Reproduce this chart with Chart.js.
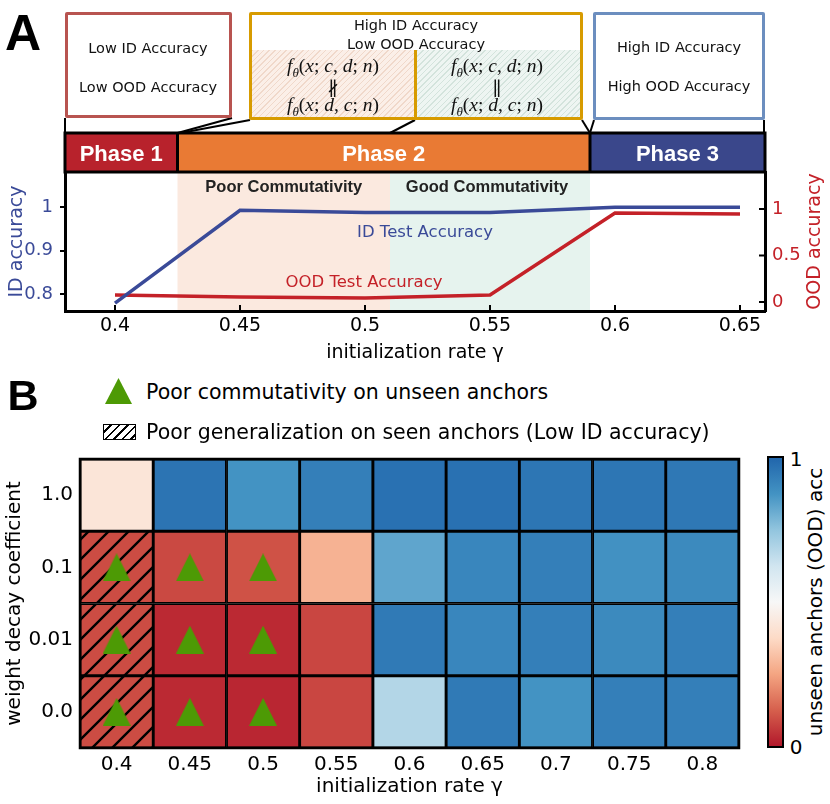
<!DOCTYPE html>
<html>
<head>
<meta charset="utf-8">
<script src="https://cdn.jsdelivr.net/npm/chart.js@4.4.1/dist/chart.umd.min.js"></script>
<style>
  html, body { margin: 0; padding: 0; background: #fff; }
  #fig { position: relative; width: 830px; height: 804px; overflow: hidden; font-family: "DejaVu Sans", sans-serif; }
  #fig canvas { position: absolute; }
  .t { position: absolute; transform: translate(-50%, -50%); white-space: nowrap; }
  .box { position: absolute; box-sizing: border-box; border: 3px solid; border-radius: 2px; background: #fff; }
  .note { font-size: 14.5px; color: #111; }
  .fm { font-family: "Liberation Serif", "DejaVu Serif", serif; font-size: 19.5px; color: #111; }
  .fm sub { font-size: 13px; }
  .big { font-family: "Liberation Sans", Arial, sans-serif; font-weight: bold; color: #000; }
  .leg { position: absolute; font-size: 20.5px; color: #000; white-space: nowrap; transform: translateY(-50%); }
</style>
</head>
<body>
<div id="fig">
  <canvas id="cA" width="830" height="372" style="left:0;top:0"></canvas>
  <canvas id="cB" width="760" height="364" style="left:0;top:440px"></canvas>

  <!-- panel letters -->
  <div class="t big" style="left:23px;top:33px;font-size:50px">A</div>
  <div class="t big" style="left:23px;top:395px;font-size:43px">B</div>

  <!-- phase boxes -->
  <div class="box" style="left:65px;top:12px;width:167px;height:106px;border-color:#b85450"></div>
  <div class="t note" style="left:148px;top:48px">Low ID Accuracy</div>
  <div class="t note" style="left:148px;top:87px">Low OOD Accuracy</div>

  <div class="box" style="left:249px;top:12px;width:334px;height:108px;border-color:#d79b00"></div>
  <div style="position:absolute;left:252px;top:50px;width:162px;height:67px;background:repeating-linear-gradient(135deg,#f0d8ca 0 1px,#fbefe8 1px 4px)"></div>
  <div style="position:absolute;left:417px;top:50px;width:163px;height:67px;background:repeating-linear-gradient(135deg,#d3e3dc 0 1px,#eef5f2 1px 4px)"></div>
  <div style="position:absolute;left:414px;top:50px;width:3px;height:70px;background:#d79b00"></div>
  <div class="t note" style="left:416px;top:25px">High ID Accuracy</div>
  <div class="t note" style="left:416px;top:44px">Low OOD Accuracy</div>
  <div class="t fm" style="left:333px;top:68px"><i>f</i><sub><i>θ</i></sub>(<i>x</i>; <i>c</i>, <i>d</i>; <i>n</i>)</div>
  <div class="t fm" style="left:333px;top:88px;font-size:19px">∦</div>
  <div class="t fm" style="left:333px;top:107px"><i>f</i><sub><i>θ</i></sub>(<i>x</i>; <i>d</i>, <i>c</i>; <i>n</i>)</div>
  <div class="t fm" style="left:497px;top:68px"><i>f</i><sub><i>θ</i></sub>(<i>x</i>; <i>c</i>, <i>d</i>; <i>n</i>)</div>
  <div class="t fm" style="left:497px;top:88px;font-size:19px">∥</div>
  <div class="t fm" style="left:497px;top:107px"><i>f</i><sub><i>θ</i></sub>(<i>x</i>; <i>d</i>, <i>c</i>; <i>n</i>)</div>

  <div class="box" style="left:593px;top:12px;width:172px;height:108px;border-color:#6c8ebf"></div>
  <div class="t note" style="left:679px;top:47px">High ID Accuracy</div>
  <div class="t note" style="left:679px;top:86px">High OOD Accuracy</div>

  <!-- panel B legend -->
  <div style="position:absolute;left:105px;top:378px;width:27px;height:26px;background:#4d9a05;clip-path:polygon(50% 0,100% 100%,0 100%)"></div>
  <div class="leg" style="left:146px;top:392px">Poor commutativity on unseen anchors</div>
  <div style="position:absolute;left:103px;top:424px;width:33px;height:16px;box-sizing:border-box;border:1.5px solid #000;background:repeating-linear-gradient(135deg,#fff 0 4px,#000 4px 6px)"></div>
  <div class="leg" style="left:146px;top:432px">Poor generalization on seen anchors (Low ID accuracy)</div>

  <!-- colorbar -->
  <div id="cbar" style="position:absolute;left:767px;top:456px;width:17px;height:292px;box-sizing:border-box;border:2.5px solid #000"></div>
  <div class="t" style="left:796px;top:459px;font-size:20px">1</div>
  <div class="t" style="left:796px;top:747px;font-size:20px">0</div>
  <div class="t" style="left:815px;top:602px;font-size:20px;transform:translate(-50%,-50%) rotate(-90deg)">unseen anchors (OOD) acc</div>
</div>

<script>
// ---- panel A: accuracy vs initialization rate ----
const gammaA = [0.4, 0.45, 0.5, 0.55, 0.6, 0.65];
const idAcc = [0.779, 0.993, 0.988, 0.988, 1.0, 1.0];
const oodAcc = [0.075, 0.054, 0.043, 0.075, 0.957, 0.946];
const idTicks = [0.8, 0.9, 1];
const oodTicks = [0, 0.5, 1];
const phaseNames = ['Phase 1', 'Phase 2', 'Phase 3'];
const phaseEdges = [0.425, 0.59];
const commEdge = 0.51;

// ---- panel B: OOD accuracy grid (rows bottom -> top) ----
const gammaB = ['0.4', '0.45', '0.5', '0.55', '0.6', '0.65', '0.7', '0.75', '0.8'];
const wdLabels = ['0.0', '0.01', '0.1', '1.0'];
const oodWd0   = [0.09, 0.03, 0.025, 0.08, 0.685, 0.945, 0.875, 0.93, 0.93];
const oodWd001 = [0.09, 0.03, 0.03, 0.08, 0.945, 0.91, 0.93, 0.90, 0.93];
const oodWd01  = [0.09, 0.085, 0.10, 0.28, 0.83, 0.91, 0.93, 0.88, 0.90];
const oodWd1   = [0.42, 0.96, 0.875, 0.93, 0.97, 0.97, 0.955, 0.955, 0.95];
const poorCommCells = [['0.4', '0.1'], ['0.45', '0.1'], ['0.5', '0.1'],
                       ['0.4', '0.01'], ['0.45', '0.01'], ['0.5', '0.01'],
                       ['0.4', '0.0'], ['0.45', '0.0'], ['0.5', '0.0']];
const lowIdCells = [['0.4', '0.1'], ['0.4', '0.01'], ['0.4', '0.0']];

const ID_BLUE = '#3a4a98', OOD_RED = '#c42128';
const phaseColors = ['#b8222c', '#e97a34', '#3a478b'];
const cmapStops = ['#b2182b', '#d6604d', '#f4a582', '#fddbc7', '#f7f7f7', '#d1e5f0', '#92c5de', '#4393c3', '#2166ac'];

Chart.defaults.font.family = '"DejaVu Sans", sans-serif';
Chart.defaults.color = '#000';

const fmt = v => String(Math.round(v * 100) / 100);

function hex2rgb(h) { return [1, 3, 5].map(i => parseInt(h.substr(i, 2), 16)); }
function cmap(v) {
  v = Math.max(0, Math.min(1, v));
  const n = cmapStops.length - 1, t = v * n;
  const i = Math.min(Math.floor(t), n - 1), f = t - i;
  const a = hex2rgb(cmapStops[i]), b = hex2rgb(cmapStops[i + 1]);
  return 'rgb(' + a.map((x, k) => Math.round(x + (b[k] - x) * f)).join(',') + ')';
}

document.getElementById('cbar').style.background =
  'linear-gradient(to top,' + cmapStops.join(',') + ')';

function line(ctx, x1, y1, x2, y2) {
  ctx.beginPath(); ctx.moveTo(x1, y1); ctx.lineTo(x2, y2); ctx.stroke();
}

// shading, phase bar, labels, inward ticks
const phasePlugin = {
  id: 'phases',
  beforeDraw(chart) {
    const { ctx, chartArea: a, scales: { x } } = chart;
    const p0 = x.getPixelForValue(phaseEdges[0]);
    const pc = x.getPixelForValue(commEdge);
    const p1 = x.getPixelForValue(phaseEdges[1]);
    ctx.save();
    ctx.fillStyle = '#fbe9df';
    ctx.fillRect(p0, a.top, pc - p0, a.bottom - a.top);
    ctx.fillStyle = '#e6f3ee';
    ctx.fillRect(pc, a.top, p1 - pc, a.bottom - a.top);
    ctx.restore();
  },
  afterDraw(chart) {
    const { ctx, chartArea: a, scales: { x, y, y1 } } = chart;
    const xs = [a.left, x.getPixelForValue(phaseEdges[0]), x.getPixelForValue(phaseEdges[1]), a.right];
    const pc = x.getPixelForValue(commEdge);
    const top = 133, bot = a.top;
    ctx.save();
    // phase bar
    phaseNames.forEach((n, i) => {
      ctx.fillStyle = phaseColors[i];
      ctx.fillRect(xs[i], top, xs[i + 1] - xs[i], bot - top);
    });
    ctx.strokeStyle = '#000';
    ctx.lineWidth = 3;
    ctx.strokeRect(a.left, top, a.right - a.left, bot - top);
    line(ctx, xs[1], top, xs[1], bot);
    line(ctx, xs[2], top, xs[2], bot);
    ctx.fillStyle = '#fff';
    ctx.font = 'bold 22px "Liberation Sans", Arial, sans-serif';
    ctx.textAlign = 'center';
    ctx.textBaseline = 'alphabetic';
    phaseNames.forEach((n, i) => ctx.fillText(n, (xs[i] + xs[i + 1]) / 2, 161));

    // connectors from the boxes to the bar
    ctx.lineWidth = 2;
    line(ctx, 65, 118, a.left, top);
    line(ctx, 232, 118, xs[1], top);
    line(ctx, 250, 120, xs[1] + 3, top);
    line(ctx, 415, 120, pc, top);
    line(ctx, 582, 120, xs[2], top);
    line(ctx, 594, 120, xs[2], top);
    line(ctx, 764, 120, a.right - 1, top);

    // commutativity labels
    ctx.fillStyle = '#222';
    ctx.font = 'bold 16.5px "Liberation Sans", Arial, sans-serif';
    ctx.textBaseline = 'middle';
    ctx.fillText('Poor Commutativity', (xs[1] + pc) / 2, a.top + 15);
    ctx.fillText('Good Commutativity', (pc + xs[2]) / 2 - 3, a.top + 15);

    // series labels
    ctx.font = '16.5px "DejaVu Sans", sans-serif';
    ctx.fillStyle = ID_BLUE;
    ctx.fillText('ID Test Accuracy', x.getPixelForValue(0.524), y.getPixelForValue(0.942));
    ctx.fillStyle = OOD_RED;
    ctx.fillText('OOD Test Accuracy', x.getPixelForValue(0.4996), y1.getPixelForValue(0.204));

    // inward ticks
    ctx.strokeStyle = '#000';
    ctx.lineWidth = 2;
    x.ticks.forEach(t => {
      const px = x.getPixelForValue(t.value);
      line(ctx, px, a.bottom, px, a.bottom - 6);
    });
    y1.ticks.forEach(t => {
      const py = y1.getPixelForValue(t.value);
      line(ctx, a.right, py, a.right - 6, py);
    });

    // right axis title, reading upward
    ctx.translate(815, (a.top + a.bottom) / 2);
    ctx.rotate(-Math.PI / 2);
    ctx.fillStyle = OOD_RED;
    ctx.font = '19px "DejaVu Sans", sans-serif';
    ctx.fillText('OOD accuracy', 0, 0);
    ctx.restore();
  }
};

new Chart(document.getElementById('cA'), {
  type: 'line',
  data: {
    datasets: [
      { label: 'ID Test Accuracy', data: gammaA.map((g, i) => ({ x: g, y: idAcc[i] })), yAxisID: 'y',
        borderColor: ID_BLUE, borderWidth: 3.5, pointRadius: 0, tension: 0 },
      { label: 'OOD Test Accuracy', data: gammaA.map((g, i) => ({ x: g, y: oodAcc[i] })), yAxisID: 'y1',
        borderColor: OOD_RED, borderWidth: 3.5, pointRadius: 0, tension: 0 }
    ]
  },
  options: {
    responsive: false, animation: false, devicePixelRatio: 1,
    layout: { padding: { top: 172, left: 0, right: 0, bottom: 0 } },
    plugins: { legend: { display: false }, tooltip: { enabled: false } },
    scales: {
      x: {
        type: 'linear', min: 0.38, max: 0.66,
        afterBuildTicks: s => { s.ticks = gammaA.map(v => ({ value: v })); },
        afterFit: s => { s.height = 61; },
        grid: { display: false, drawTicks: false },
        border: { color: '#000', width: 3 },
        ticks: { padding: 4, font: { size: 19 }, color: '#000', callback: v => fmt(v) },
        title: { display: true, text: 'initialization rate γ', font: { size: 19 }, color: '#000', padding: { top: 0, bottom: 8 } }
      },
      y: {
        type: 'linear', position: 'left', min: 0.761, max: 1.081,
        afterBuildTicks: s => { s.ticks = idTicks.map(v => ({ value: v })); },
        afterFit: s => { s.width = 65; },
        grid: { drawOnChartArea: false, drawTicks: true, tickLength: 5, color: '#000', lineWidth: 2 },
        border: { color: '#000', width: 3 },
        ticks: { padding: 7, font: { size: 18 }, color: ID_BLUE, callback: v => fmt(v) },
        title: { display: true, text: 'ID accuracy', font: { size: 19 }, color: ID_BLUE, padding: { top: 6, bottom: 0 } }
      },
      y1: {
        type: 'linear', position: 'right', min: -0.097, max: 1.398,
        afterBuildTicks: s => { s.ticks = oodTicks.map(v => ({ value: v })); },
        afterFit: s => { s.width = 65; },
        grid: { display: false, drawTicks: false },
        border: { color: '#000', width: 3 },
        ticks: { padding: 7, font: { size: 18 }, color: OOD_RED, callback: v => fmt(v) }
      }
    }
  },
  plugins: [phasePlugin]
});

// ---- panel B heatmap ----
const cB = document.getElementById('cB');
const ctxB = cB.getContext('2d');

function hatch(color) {
  const s = 20, c = document.createElement('canvas');
  c.width = c.height = s;
  const g = c.getContext('2d');
  g.fillStyle = color; g.fillRect(0, 0, s, s);
  g.strokeStyle = '#000'; g.lineWidth = 2.4;
  g.beginPath();
  g.moveTo(0, s); g.lineTo(s, 0);
  g.moveTo(-s / 2, s / 2); g.lineTo(s / 2, -s / 2);
  g.moveTo(s / 2, s * 1.5); g.lineTo(s * 1.5, s / 2);
  g.stroke();
  return ctxB.createPattern(c, 'repeat');
}

const tri = document.createElement('canvas');
tri.width = 28; tri.height = 28;
(() => {
  const g = tri.getContext('2d');
  g.fillStyle = '#4d9a05';
  g.beginPath(); g.moveTo(14, 0); g.lineTo(28, 28); g.lineTo(0, 28); g.closePath(); g.fill();
})();

const oodRows = [oodWd0, oodWd001, oodWd01, oodWd1];
const isLowId = (g, w) => lowIdCells.some(c => c[0] === g && c[1] === w);

const rowSets = oodRows.map((vals, r) => ({
  type: 'bar',
  label: 'wd ' + wdLabels[r],
  data: gammaB.map(() => [r - 0.5, r + 0.5]),
  backgroundColor: vals.map((v, i) => isLowId(gammaB[i], wdLabels[r]) ? hatch(cmap(v)) : cmap(v)),
  borderColor: '#000', borderWidth: 1.8, borderSkipped: false,
  barPercentage: 1, categoryPercentage: 1, grouped: false, order: 2
}));

const triSet = {
  type: 'line', label: 'poor commutativity', showLine: false, order: 0,
  data: poorCommCells.map(c => ({ x: c[0], y: wdLabels.indexOf(c[1]) })),
  pointStyle: tri, pointRadius: 14, pointHoverRadius: 14
};

const framePlugin = {
  id: 'frame',
  afterDraw(chart) {
    const { ctx, chartArea: a } = chart;
    ctx.save();
    ctx.strokeStyle = '#000'; ctx.lineWidth = 2.5;
    ctx.strokeRect(a.left, a.top, a.right - a.left, a.bottom - a.top);
    ctx.restore();
  }
};

new Chart(cB, {
  data: { labels: gammaB, datasets: [triSet, ...rowSets] },
  options: {
    responsive: false, animation: false, devicePixelRatio: 1,
    layout: { padding: { top: 16, right: 21, left: 0, bottom: 0 } },
    plugins: { legend: { display: false }, tooltip: { enabled: false } },
    scales: {
      x: {
        type: 'category', offset: true,
        afterFit: s => { s.height = 56; },
        grid: { display: false, drawTicks: false },
        border: { display: false },
        ticks: { padding: 5, font: { size: 20 }, color: '#000' },
        title: { display: true, text: 'initialization rate γ', font: { size: 20 }, color: '#000', padding: { top: 0, bottom: 5 } }
      },
      y: {
        type: 'linear', min: -0.5, max: 3.5,
        afterBuildTicks: s => { s.ticks = wdLabels.map((w, i) => ({ value: i })); },
        afterFit: s => { s.width = 80; },
        grid: { display: false, drawTicks: false },
        border: { display: false },
        ticks: { padding: 7, font: { size: 20 }, color: '#000', callback: v => wdLabels[v] },
        title: { display: true, text: 'weight decay coefficient', font: { size: 20 }, color: '#000', padding: { top: 3, bottom: 0 } }
      }
    }
  },
  plugins: [framePlugin]
});
</script>
</body>
</html>
